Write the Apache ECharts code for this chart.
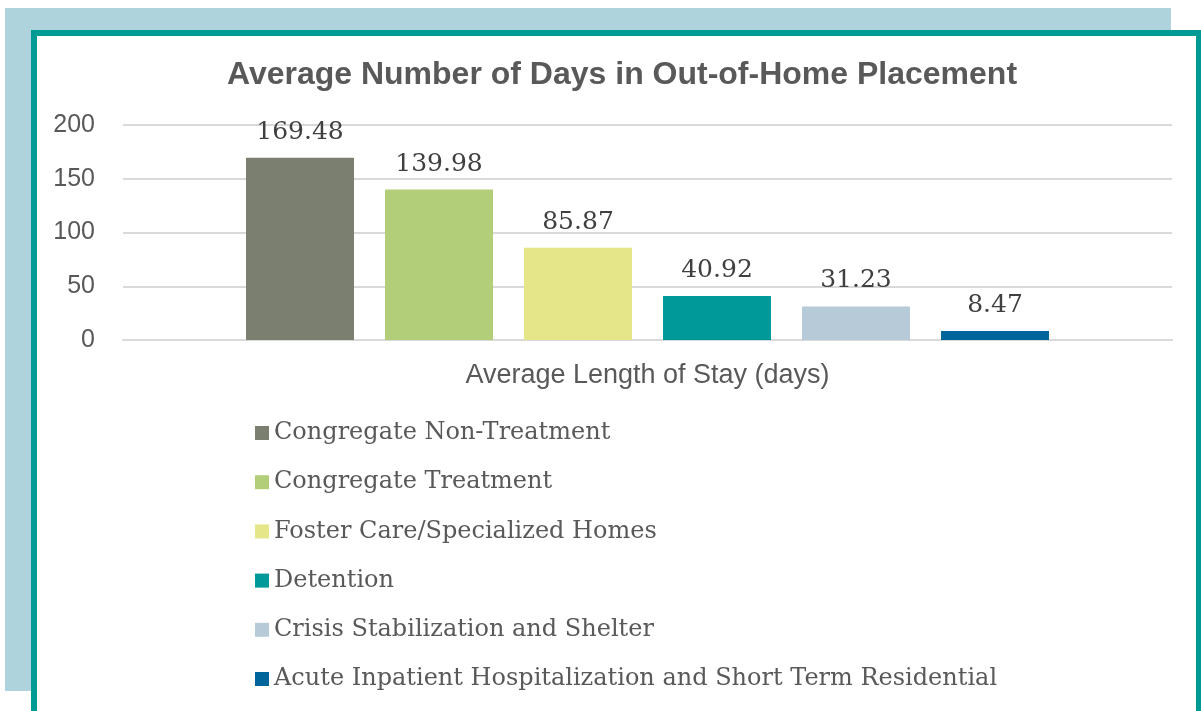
<!DOCTYPE html>
<html>
<head>
<meta charset="utf-8">
<script src="https://cdn.jsdelivr.net/npm/echarts@6/dist/echarts.min.js"></script>
<style>
  html, body { margin: 0; padding: 0; width: 1201px; height: 711px; overflow: hidden; background: #ffffff; }
  #bg { position: absolute; left: 5px; top: 8px; width: 1166px; height: 683px; background: #AED3DC; }
  #frame { position: absolute; left: 31px; top: 30px; width: 1159px; height: 678px; background: #ffffff;
           border-left: 6px solid #009A94; border-top: 6px solid #009A94; border-right: 5px solid #009A94;
           border-bottom: 2px solid #7FD3CF; }
  #chart { position: absolute; left: 0; top: 0; width: 1201px; height: 711px; }
</style>
</head>
<body>
<div id="bg"></div>
<div id="frame"></div>
<div id="chart"></div>
<script>
const titleText = 'Average Number of Days in Out-of-Home Placement';
const categories = ['Average Length of Stay (days)'];
const seriesNames = [
  'Congregate Non-Treatment',
  'Congregate Treatment',
  'Foster Care/Specialized Homes',
  'Detention',
  'Crisis Stabilization and Shelter',
  'Acute Inpatient Hospitalization and Short Term Residential'
];
const seriesValues = [169.48, 139.98, 85.87, 40.92, 31.23, 8.47];
const seriesColors = ['#7B7F6F', '#B2CE78', '#E5E58A', '#00999A', '#B6CAD8', '#00659A'];
const yTicks = [0, 50, 100, 150, 200];

const chart = echarts.init(document.getElementById('chart'), null, { renderer: 'canvas' });
const option = {
  backgroundColor: 'transparent',
  animation: false,
  title: {
    text: titleText,
    left: 617, top: 54, textAlign: 'center',
    textStyle: { fontFamily: 'Liberation Sans, Arial, sans-serif', fontWeight: 'bold', fontSize: 32, color: '#595959' }
  },
  legend: {
    orient: 'vertical',
    left: 250, top: 414,
    icon: 'rect', itemWidth: 14, itemHeight: 14, itemGap: 21.2,
    textStyle: { fontFamily: 'DejaVu Serif, serif', fontSize: 24, color: '#595959', lineHeight: 28 },
    data: seriesNames
  },
  grid: { left: 123, right: 29, top: 125, bottom: 371, containLabel: false },
  xAxis: {
    type: 'category',
    data: categories,
    axisLine: { show: true, lineStyle: { color: '#D9D9D9', width: 2 } },
    axisTick: { show: false },
    axisLabel: { margin: 22, fontFamily: 'Liberation Sans, Arial, sans-serif', fontSize: 27, color: '#595959' }
  },
  yAxis: {
    type: 'value', min: yTicks[0], max: yTicks[yTicks.length - 1], interval: yTicks[1] - yTicks[0],
    axisLine: { show: false }, axisTick: { show: false },
    splitLine: { lineStyle: { color: '#D9D9D9', width: 2 } },
    axisLabel: { margin: 28, fontFamily: 'Liberation Sans, Arial, sans-serif', fontSize: 25, color: '#595959' }
  },
  series: seriesNames.map((name, i) => ({
    name: name,
    type: 'bar',
    data: [seriesValues[i]],
    barWidth: 108,
    barGap: '28.7%',
    itemStyle: { color: seriesColors[i] },
    label: {
      show: true, position: 'top', distance: 13,
      fontFamily: 'DejaVu Serif, serif', fontSize: 25, color: '#404040',
      formatter: (p) => p.value.toFixed(2)
    }
  }))
};
chart.setOption(option);
</script>
</body>
</html>
